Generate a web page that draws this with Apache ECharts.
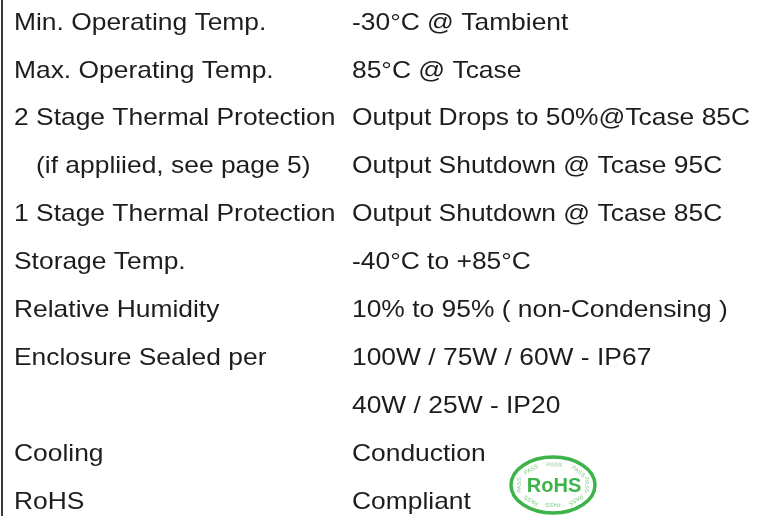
<!DOCTYPE html>
<html>
<head>
<meta charset="utf-8">
<script src="https://cdn.jsdelivr.net/npm/echarts@6/dist/echarts.min.js"></script>
<style>
  html, body { margin: 0; padding: 0; background: #fff; }
  #chart { width: 770px; height: 516px; }
</style>
</head>
<body>
<div id="chart"></div>
<script>
// table content, one entry per row
const paramNames = [
  'Min. Operating Temp.',
  'Max. Operating Temp.',
  '2 Stage Thermal Protection',
  '   (if appliied, see page 5)',
  '1 Stage Thermal Protection',
  'Storage Temp.',
  'Relative Humidity',
  'Enclosure Sealed per',
  '',
  'Cooling',
  'RoHS'
]
const paramValues = [
  '-30°C @ Tambient',
  '85°C @ Tcase',
  'Output Drops to 50%@Tcase 85C',
  'Output Shutdown @ Tcase 95C',
  'Output Shutdown @ Tcase 85C',
  '-40°C to +85°C',
  '10% to 95% ( non-Condensing )',
  '100W / 75W / 60W - IP67',
  '40W / 25W - IP20',
  'Conduction',
  'Compliant'
]
const columns = ['param', 'value']
const rowIds = paramNames.map((_, i) => String(i))

const passAngles = [-88, -130, -42, 180, 0, 130, 90, 48]

const chart = echarts.init(document.getElementById('chart'))

const cells = []
rowIds.forEach((r, i) => {
  cells.push({ value: [0, i], text: paramNames[i] })
  cells.push({ value: [1, i], text: paramValues[i] })
})

const textColor = '#1f1c1d'
const green = '#3cb44b'

// RoHS badge (decoration)
const badge = { cx: 553, cy: 485, rx: 42, ry: 28 }
const passLabels = passAngles.map((deg) => {
  const t = (deg * Math.PI) / 180
  const tx = -badge.rx * Math.sin(t)
  const ty = badge.ry * Math.cos(t)
  return {
    type: 'text',
    x: badge.cx + 34 * Math.cos(t),
    y: badge.cy + 20 * Math.sin(t),
    rotation: -Math.atan2(ty, tx),
    style: {
      text: 'PASS',
      fill: '#7fcb84',
      font: '6px "Liberation Sans", Arial, sans-serif',
      align: 'center',
      verticalAlign: 'middle'
    }
  }
})

chart.setOption({
  animation: false,
  grid: { left: 14, right: 80, top: 23, bottom: 14 },
  xAxis: {
    type: 'category',
    data: columns,
    show: false
  },
  yAxis: {
    type: 'category',
    data: rowIds,
    inverse: true,
    boundaryGap: false,
    show: false
  },
  graphic: [
    {
      type: 'line',
      shape: { x1: 2, y1: 0, x2: 2, y2: 516 },
      style: { stroke: '#3a3a3a', lineWidth: 2 }
    },
    {
      type: 'ellipse',
      shape: { cx: badge.cx, cy: badge.cy, rx: badge.rx, ry: badge.ry },
      style: { fill: '#fff', stroke: green, lineWidth: 3.5 }
    },
    {
      type: 'text',
      x: badge.cx + 1,
      y: badge.cy + 1,
      style: {
        text: 'RoHS',
        fill: green,
        font: 'bold 20px "Liberation Sans", Arial, sans-serif',
        align: 'center',
        verticalAlign: 'middle'
      }
    },
    ...passLabels
  ],
  series: [
    {
      type: 'custom',
      data: cells.map((c) => c.value),
      renderItem: (params, api) => {
        const p = api.coord([api.value(0), api.value(1)])
        const bandW = api.size([1, 0])[0]
        return {
          type: 'text',
          x: p[0] - bandW / 2,
          y: p[1],
          scaleX: 1.1,
          style: {
            text: cells[params.dataIndex].text,
            fill: textColor,
            font: '24px "Liberation Sans", Arial, sans-serif',
            align: 'left',
            verticalAlign: 'middle'
          }
        }
      }
    }
  ]
})
</script>
</body>
</html>
